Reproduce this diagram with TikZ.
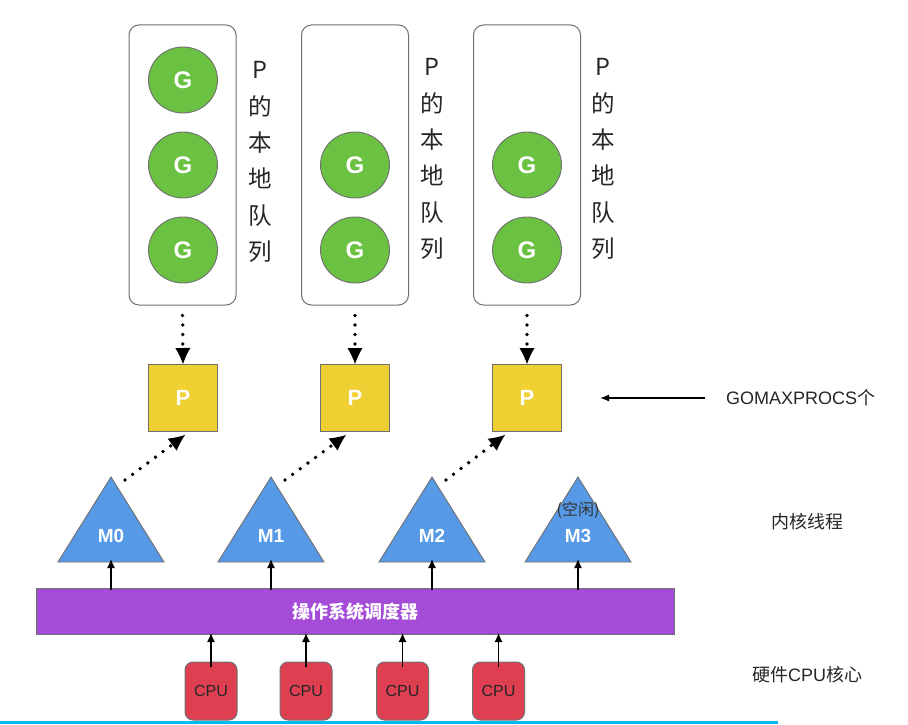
\documentclass[tikz,border=0pt]{standalone}
\usepackage{fontspec}
\setmainfont{Liberation Sans}
\newfontfamily\cjk{Noto Sans CJK SC}
\usetikzlibrary{arrows.meta,shapes.geometric}
\definecolor{ggreen}{HTML}{6BC141}
\definecolor{pyellow}{HTML}{EFD033}
\definecolor{mblue}{HTML}{5699E6}
\definecolor{ospurple}{HTML}{A44BD8}
\definecolor{cpured}{HTML}{DE4052}
\definecolor{bordergray}{HTML}{707070}
\definecolor{bline}{HTML}{00B8F2}
\tikzset{
  qbox/.style={draw=bordergray, line width=1pt, rounded corners=10pt, minimum width=107pt, minimum height=280pt, inner sep=0pt},
  gnode/.style={ellipse, draw=bordergray, line width=0.9pt, fill=ggreen, minimum width=69pt, minimum height=66pt, inner sep=0pt, text=white, font=\fontsize{24}{24}\selectfont\bfseries},
  pnode/.style={draw=bordergray, line width=1pt, fill=pyellow, minimum width=69pt, minimum height=67pt, inner sep=0pt, text=white, font=\fontsize{22}{22}\selectfont\bfseries},
  mtri/.style={draw=bordergray, line width=0.9pt, fill=mblue},
  mlabel/.style={text=white, font=\fontsize{19}{19}\selectfont\bfseries, inner sep=0pt},
  cpunode/.style={draw=bordergray, line width=1pt, fill=cpured, rounded corners=8pt, minimum width=52pt, minimum height=58pt, inner sep=0pt, font=\fontsize{16}{16}\selectfont, text=black!85},
  vlabel/.style={align=center, font=\cjk\fontsize{23.5}{36.3}\selectfont, text=black!85, inner sep=0pt},
  sidelabel/.style={font=\fontsize{18}{18}\selectfont, text=black!85, inner sep=0pt},
  dotarrow/.style={line width=3.8pt, dash pattern=on 0pt off 9.5pt, line cap=round, -{Latex[length=16pt,width=15pt,line width=0pt]}},
  uparrow/.style={line width=1.3pt, -{Latex[length=9pt,width=8pt]}},
}
\begin{document}
\begin{tikzpicture}[x=1pt,y=-1pt]
\useasboundingbox (0,0) rectangle (908,725);
\fill[white] (0,0) rectangle (908,725);

% queue boxes
\node[qbox] (q1) at (182.5,165) {};
\node[qbox] (q2) at (355,165) {};
\node[qbox] (q3) at (527,165) {};

% G nodes
\node[gnode] (g11) at (183,80) {G};
\node[gnode] (g12) at (183,165) {G};
\node[gnode] (g13) at (183,250) {G};
\node[gnode] (g22) at (355,165) {G};
\node[gnode] (g23) at (355,250) {G};
\node[gnode] (g32) at (527,165) {G};
\node[gnode] (g33) at (527,250) {G};

% vertical labels
\node[vlabel] (l1) at (260,162) {P\\的\\本\\地\\队\\列};
\node[vlabel] (l2) at (432,159) {P\\的\\本\\地\\队\\列};
\node[vlabel] (l3) at (603,159) {P\\的\\本\\地\\队\\列};

% P nodes
\node[pnode] (p1) at (183,398) {P};
\node[pnode] (p2) at (355,398) {P};
\node[pnode] (p3) at (527,398) {P};

% queue -> P
\draw[dotarrow, shorten <=10pt] (q1.south) -- (p1.north);
\draw[dotarrow, shorten <=10pt] (q2.south) -- (p2.north);
\draw[dotarrow, shorten <=10pt] (q3.south) -- (p3.north);

% GOMAXPROCS
\node[sidelabel, anchor=west] (gmp) at (726,398) {GOMAXPROCS{\cjk 个}};
\coordinate (gmpend) at (600,398);
\draw[line width=1.3pt, -{Latex[length=9pt,width=7pt]}] (705,398) -- (gmpend);

% M triangles
\foreach \n/\x in {0/111,1/271,2/432,3/578}{
  \coordinate (apex\n) at (\x,477);
  \coordinate (mbase\n) at (\x,562);
  \draw[mtri] (\x-53,562) -- (apex\n) -- (\x+53,562) -- cycle;
}
\node[mlabel] (m0) at (111,536) {M0};
\node[mlabel] (m1) at (271,536) {M1};
\node[mlabel] (m2) at (432,536) {M2};
\node[mlabel] (m3) at (578,536) {M3};
\node[font=\cjk\fontsize{16}{16}\selectfont, text=black!80, inner sep=0pt] (idle) at (578,510) {(空闲)};

% M -> P dotted
\coordinate (s0) at (125,480);
\coordinate (s1) at (285,480);
\coordinate (s2) at (446,480);
\coordinate (t1) at (185,435);
\coordinate (t2) at (346,435);
\coordinate (t3) at (505,435);
\draw[dotarrow] (s0) -- (t1);
\draw[dotarrow] (s1) -- (t2);
\draw[dotarrow] (s2) -- (t3);

\node[sidelabel, font=\cjk\fontsize{18}{18}\selectfont] (kt) at (807,522) {内核线程};

% OS scheduler bar
\node[draw=bordergray, line width=1pt, fill=ospurple, minimum width=638pt, minimum height=46pt, inner sep=0pt, text=white, font=\cjk\bfseries\fontsize{18}{18}\selectfont] (os) at (355,611.5) {操作系统调度器};

\foreach \n in {0,1,2,3}{
  \draw[uparrow] ([yshift=-2pt]os.north -| mbase\n) -- ([yshift=3pt]mbase\n);
}

% CPUs
\node[cpunode] (c1) at (211,691) {CPU};
\node[cpunode] (c2) at (306,691) {CPU};
\node[cpunode] (c3) at (402.5,691) {CPU};
\node[cpunode] (c4) at (498.5,691) {CPU};
\foreach \c in {c1,c2,c3,c4}{
  \draw[uparrow] ([yshift=-5pt]\c.north) -- ([yshift=2pt]\c.north |- os.south);
}

\node[sidelabel, font=\cjk\fontsize{18}{18}\selectfont] (hw) at (807,675) {硬件{\fontspec{Liberation Sans}CPU}核心};

% bottom blue line
\coordinate (bl0) at (0,722.5);
\coordinate (bl1) at (778,722.5);
\draw[bline, line width=2.2pt] (bl0) -- (bl1);
\end{tikzpicture}
\end{document}
